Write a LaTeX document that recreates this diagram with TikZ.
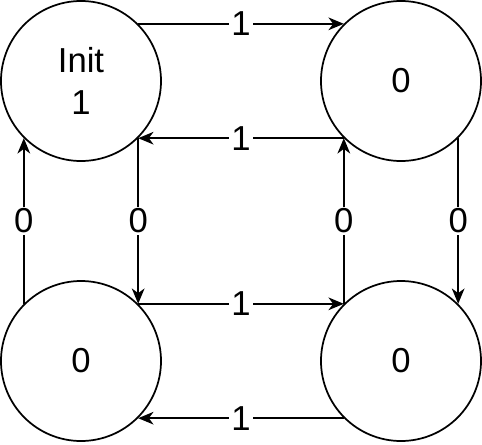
\documentclass[tikz,border=0pt]{standalone}
\usepackage{fontspec}
\setmainfont{Liberation Sans}
\usetikzlibrary{positioning}
\usetikzlibrary{arrows.meta}

\begin{document}
\begin{tikzpicture}[
  state/.style={circle,draw,line width=1.3pt,minimum size=120pt,inner sep=0pt,
    font=\fontsize{26}{32}\selectfont,align=center},
  trans/.style={-{Stealth[length=11.5pt,width=9.5pt,inset=3.5pt]},line width=1.3pt},
  lbl/.style={fill=white,inner sep=1.5pt,font=\fontsize{26}{32}\selectfont},
  node distance=210pt and 240pt,on grid]
\useasboundingbox (-60.75pt,60.75pt) rectangle (300.75pt,-272.25pt);

\node[state] (init) {Init\\1};
\node[state,right=of init] (s1) {0};
\node[state,below=of init] (s2) {0};
\node[state,below=of s1] (s3) {0};

% horizontal transitions
\draw[trans] (init.45) -- node[lbl]{1} (s1.135);
\draw[trans] (s1.225) -- node[lbl]{1} (init.-45);
\draw[trans] (s2.45) -- node[lbl]{1} (s3.135);
\draw[trans] (s3.225) -- node[lbl]{1} (s2.-45);

% vertical transitions
\draw[trans] (s2.135) -- node[lbl]{0} (init.225);
\draw[trans] (init.-45) -- node[lbl]{0} (s2.45);
\draw[trans] (s3.135) -- node[lbl]{0} (s1.225);
\draw[trans] (s1.-45) -- node[lbl]{0} (s3.45);

\end{tikzpicture}
\end{document}
